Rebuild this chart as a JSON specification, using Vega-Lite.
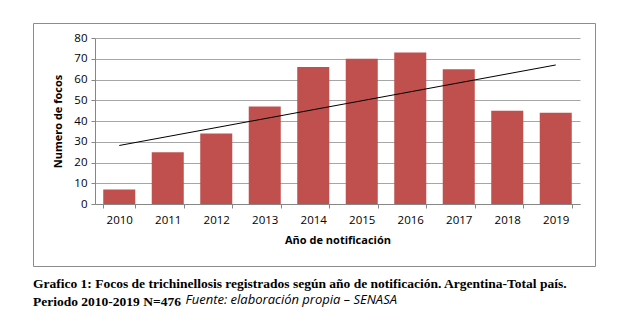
{
  "$schema": "https://vega.github.io/schema/vega-lite/v6.json",
  "width": 562,
  "height": 243,
  "padding": {"left": 32, "top": 22, "right": 0, "bottom": 0},
  "background": "white",
  "config": {
    "view": {"stroke": "#8c8c8c", "strokeWidth": 1},
    "font": "Open Sans"
  },
  "title": {
    "text": "Fuente: elaboración propia – SENASA",
    "orient": "bottom",
    "anchor": "start",
    "font": "Open Sans",
    "fontStyle": "italic",
    "fontWeight": "normal",
    "fontSize": 13,
    "color": "#000000",
    "dx": 153,
    "dy": -15,
    "offset": 0
  },
  "vconcat": [
    {
      "width": 562,
      "height": 243,
      "title": {
        "text": ["Grafico 1: Focos de trichinellosis registrados según año de notificación. Argentina-Total país.", "Periodo 2010-2019 N=476"],
        "orient": "bottom",
        "anchor": "start",
        "font": "Liberation Serif",
        "fontWeight": "bold",
        "fontSize": 13.5,
        "lineHeight": 18,
        "color": "#000000",
        "offset": 11
      },
      "encoding": {
        "x": {
          "field": "year",
          "type": "ordinal",
          "scale": {"range": [62, 547], "paddingInner": 0.34, "paddingOuter": 0.17},
          "axis": {
            "title": "Año de notificación",
            "titleFont": "Open Sans",
            "titleFontWeight": "bold",
            "titleFontSize": 11,
            "titleColor": "#000000",
            "titlePadding": 9,
            "labelAngle": 0,
            "labelFont": "Open Sans",
            "labelFontSize": 11.5,
            "labelColor": "#000000",
            "labelPadding": 6,
            "tickBand": "extent",
            "tickSize": 4,
            "tickColor": "#868686",
            "domainColor": "#868686",
            "offset": -62,
            "grid": false
          }
        },
        "y": {
          "field": "focos",
          "type": "quantitative",
          "scale": {"domain": [0, 80], "range": [181, 15], "nice": false},
          "axis": {
            "title": "Numero de focos",
            "titleFont": "Open Sans",
            "titleFontWeight": "bold",
            "titleFontSize": 11,
            "titleColor": "#000000",
            "titlePadding": 10,
            "values": [0, 10, 20, 30, 40, 50, 60, 70, 80],
            "tickCount": 9,
            "labelOverlap": false,
            "labelFont": "Open Sans",
            "labelFontSize": 11.5,
            "labelColor": "#000000",
            "labelPadding": 4,
            "tickSize": 4,
            "tickColor": "#868686",
            "domainColor": "#868686",
            "gridColor": "#a6a6a6",
            "grid": true,
            "offset": -62
          }
        }
      },
      "layer": [
        {
          "data": {
            "values": [
              {"year": "2010", "focos": 7},
              {"year": "2011", "focos": 25},
              {"year": "2012", "focos": 34},
              {"year": "2013", "focos": 47},
              {"year": "2014", "focos": 66},
              {"year": "2015", "focos": 70},
              {"year": "2016", "focos": 73},
              {"year": "2017", "focos": 65},
              {"year": "2018", "focos": 45},
              {"year": "2019", "focos": 44}
            ]
          },
          "mark": {"type": "bar", "color": "#C0504D"}
        },
        {
          "data": {
            "values": [
              {"year": "2010", "focos": 28.2},
              {"year": "2019", "focos": 67.0}
            ]
          },
          "mark": {"type": "line", "color": "#000000", "strokeWidth": 1}
        }
      ]
    }
  ]
}
